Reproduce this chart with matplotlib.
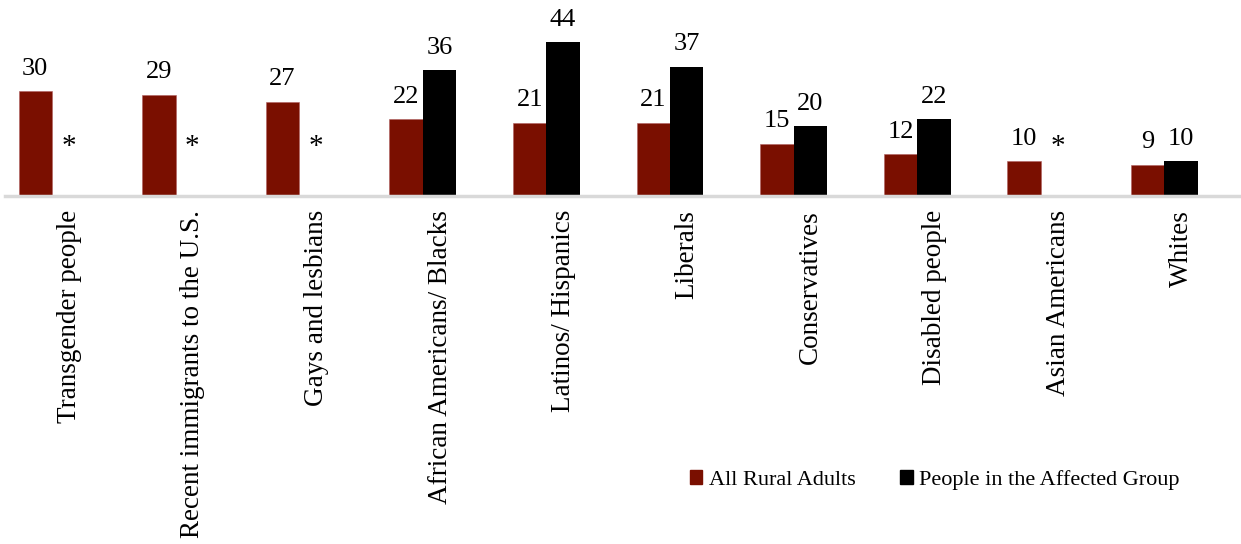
import matplotlib

matplotlib.use("Agg")
import matplotlib.pyplot as plt  # noqa: E402
import numpy as np  # noqa: E402
from matplotlib.patches import Patch  # noqa: E402

categories = ["Transgender people", "Recent immigrants to the U.S.", "Gays and lesbians",
              "African Americans/ Blacks", "Latinos/ Hispanics", "Liberals",
              "Conservatives", "Disabled people", "Asian Americans", "Whites"]
rural = [30, 29, 27, 22, 21, 21, 15, 12, 10, 9]
affected = [None, None, None, 36, 44, 37, 20, 22, None, 10]

RED = "#7a0f00"
plt.rcParams["font.family"] = ["Liberation Serif", "DejaVu Serif"]

fig = plt.figure(figsize=(12.41, 5.44), dpi=100)
ax = fig.add_axes([5 / 1241, 1 - 196 / 544, 1 - 5 / 1241, 196 / 544])
x = np.arange(len(categories))
w = 0.27

ax.bar(x - w / 2, rural, w, color=RED, edgecolor="#b06060", linewidth=0.4)
for xi, v in zip(x, rural):
    ax.annotate(f"{v}", (xi - w / 2, v), xytext=(0, 8), textcoords="offset points",
                ha="center", va="bottom", fontsize=19)
for xi, v in zip(x, affected):
    if v is None:
        ax.text(xi + w / 2, 14, "*", ha="center", va="center", fontsize=21)
    else:
        ax.bar(xi + w / 2, v, w, color="black")
        ax.annotate(f"{v}", (xi + w / 2, v), xytext=(0, 8), textcoords="offset points",
                    ha="center", va="bottom", fontsize=19)

ax.set_xlim(-0.38, 9.62)
ax.set_ylim(0, 56)
ax.axhline(0, color="#d9d9d9", lw=2.5, clip_on=False)
for s in ax.spines.values():
    s.set_visible(False)
ax.set_yticks([])
ax.set_xticks(x + 0.14)
ax.set_xticklabels(categories, rotation=90, fontsize=19.5, va="top", ha="center")
ax.tick_params(axis="x", length=0, pad=10)

handles = [Patch(color=RED, label="All Rural Adults"),
           Patch(color="black", label="People in the Affected Group")]
leg = fig.legend(handles=handles, loc="center", bbox_to_anchor=(935 / 1241, 1 - 480 / 544),
                 ncol=2, frameon=False, fontsize=16, handlelength=0.55, handleheight=0.55,
                 handletextpad=0.3, columnspacing=2.0)

fig.savefig("out.png", dpi=100)
